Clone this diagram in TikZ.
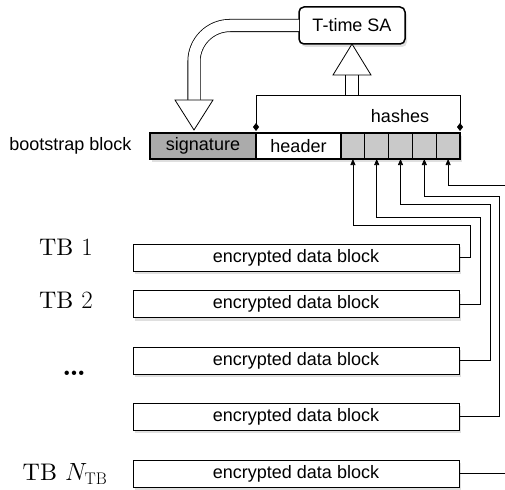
\documentclass[tikz,border=0pt]{standalone}
\usepackage{fontspec}
\setsansfont{Liberation Sans}
\newfontfamily\tbfont[Extension=.otf, BoldFont=lmroman10-bold]{lmroman10-regular}
\usetikzlibrary{arrows.meta, positioning, calc, shadows}
\definecolor{sigfill}{gray}{0.67}
\definecolor{hashfill}{gray}{0.79}
\tikzset{
  blk node/.style={
    rectangle, draw=black, fill=white, line width=1.2pt,
    minimum height=26pt, inner sep=0pt, outer sep=0pt,
    font=\sffamily\fontsize{18}{20}\selectfont,
    drop shadow={shadow xshift=2pt, shadow yshift=-3pt, opacity=0.25}
  },
  blk sig/.style={blk node, fill=sigfill, minimum width=106pt},
  blk header/.style={blk node, minimum width=85pt},
  blk hash/.style={blk node, fill=hashfill, minimum width=23.8pt},
  blk data/.style={blk node, minimum width=326pt, minimum height=27pt, line width=1pt},
  sa box/.style={
    blk node, rounded corners=5pt, line width=1.5pt,
    minimum width=106pt, minimum height=37pt
  },
  hollow band/.style={
    draw=black, line width=0.8pt, double=white, double distance=11.5pt
  },
  hollow head/.style={
    draw=black, fill=white, line width=0.8pt, line join=miter
  },
  feed arrow/.style={
    -{Triangle[length=6pt, width=5pt]}, draw=black, line width=0.7pt
  },
  bracket line/.style={
    {Diamond[length=8pt, width=6pt]}-{Diamond[length=8pt, width=6pt]},
    draw=black, line width=0.7pt
  },
  tb label/.style={font=\tbfont\fontsize{24}{28}\selectfont},
  plain label/.style={font=\sffamily\fontsize{18}{20}\selectfont}
}

\begin{document}
\begin{tikzpicture}[x=1pt, y=-1pt, node distance=0pt]
  \useasboundingbox (0,0) rectangle (505,489);

  % bootstrap block
  \node (sig) [blk sig] at (203,146) {signature};
  \node (hdr) [blk header, right=of sig] {header};
  \node (c1) [blk hash, right=of hdr] {};
  \node (c2) [blk hash, right=of c1] {};
  \node (c3) [blk hash, right=of c2] {};
  \node (c4) [blk hash, right=of c3] {};
  \node (c5) [blk hash, right=of c4] {};
  \node (bsl) [plain label, left=15pt of sig] {bootstrap block};

  \node (sa) [sa box] at (352,25.5) {T-time SA};

  % data blocks
  \node (tb1) [blk data] at (296,257.5) {encrypted data block};
  \node (tb2) [blk data] at (296,304) {encrypted data block};
  \node (blk3) [blk data] at (296,360.5) {encrypted data block};
  \node (blk4) [blk data] at (296,416.5) {encrypted data block};
  \node (blkN) [blk data] at (296,473.5) {encrypted data block};

  \node (l1) [tb label] at (66,247) {TB $1$};
  \node (l2) [tb label] at (66,300) {TB $2$};
  \node (ld) [tb label, font=\tbfont\bfseries\fontsize{28}{30}\selectfont] at (74,373) {\dots};
  \node (lN) [tb label] at (65,474) {TB $N_{\mathrm{TB}}$};

  % hashes bracket
  \coordinate (brl) at ($(hdr.north west)+(0,-2)$);
  \coordinate (brr) at ($(c5.north east)+(0,-2)$);
  \coordinate (brtop) at ($(brr)+(0,-36)$);
  \draw [bracket line] (brl) |- (brtop) -- (brr);
  \node (hl) [plain label] at (400,116) {hashes};

  % hashes up to the SA
  \coordinate (uptip) at (sa.south);
  \draw [hollow band] (sa.south |- brtop) -- ($(uptip)+(0,31)$);
  \draw [hollow head] (uptip) -- ++(-19,31) -- ++(38,0) -- cycle;

  % SA down to the signature
  \coordinate (sigtip) at ($(sig.north)+(-9,-3)$);
  \draw [hollow band, rounded corners=36pt] (sa.west) -| ($(sigtip)+(0,-30)$);
  \draw [hollow head] (sigtip) -- ++(-19,-30) -- ++(38,0) -- cycle;

  % hash feeds
  \coordinate (off5) at (505,185);
  \coordinate (offN) at (505,473.5);
  \draw [feed arrow] (tb1.east) -- ++(11,0) |- ($(c1.south)+(0,66)$) -- (c1.south);
  \draw [feed arrow] (tb2.east) -- ++(21,0) |- ($(c2.south)+(0,58)$) -- (c2.south);
  \draw [feed arrow] (blk3.east) -- ++(31,0) |- ($(c3.south)+(0,45)$) -- (c3.south);
  \draw [feed arrow] (blk4.east) -- ++(40,0) |- ($(c4.south)+(0,37)$) -- (c4.south);
  \draw [feed arrow] (off5) -| (c5.south);
  \draw [line width=0.7pt] (blkN.east) -- (offN);
\end{tikzpicture}
\end{document}
